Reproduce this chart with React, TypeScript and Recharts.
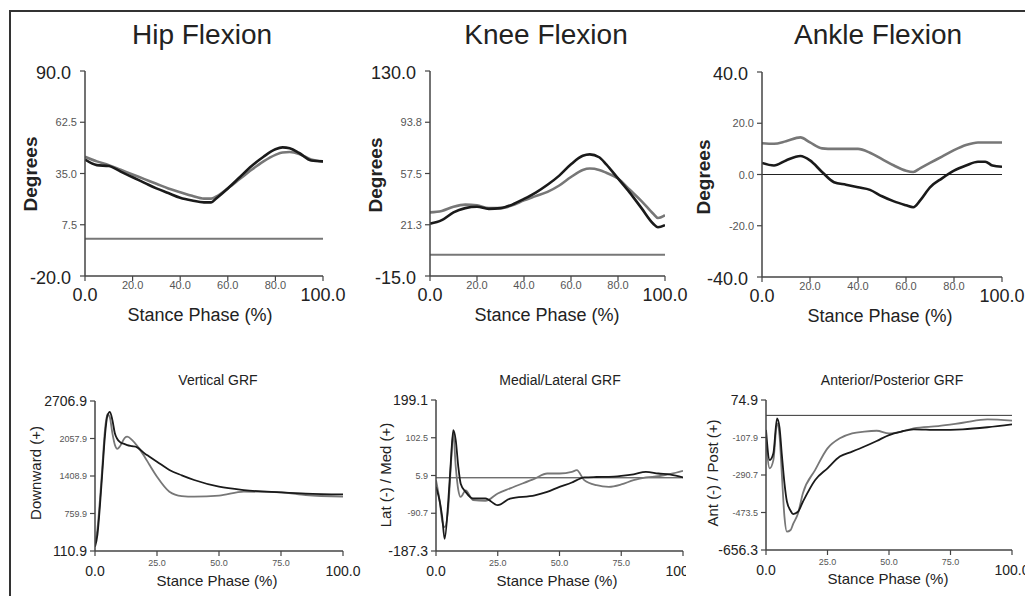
import React from 'react';
import { LineChart, Line, XAxis, YAxis, ReferenceLine } from 'recharts';

const FONT = "'Liberation Sans', Arial, Helvetica, sans-serif";
const DARK = '#1a1a1a';
const GREY = '#777777';
const AXIS = '#444444';

// ---------- Top row: joint angles (degrees) ----------
const hipX = [0, 5, 10, 15, 20, 25, 30, 35, 40, 45, 50, 53, 55, 60, 65, 70, 75, 80, 83, 86, 90, 95, 100];
const hipBlack = [42.5, 39.5, 39, 36, 33, 30, 27, 24.5, 22, 20.5, 19.5, 19.5, 21.5, 27, 33, 39, 44, 48, 49, 48.5, 46, 42, 41.5];
const hipGrey = [44, 41.5, 39.5, 37, 34.5, 32, 29.5, 27, 25, 23, 21.5, 21.5, 22.5, 27, 32, 37, 41.5, 45, 46.3, 46.5, 45.5, 42.5, 41.5];
const hipYTicks = [-20, 7.5, 35, 62.5, 90];
const hipYLabels = ['-20.0', '7.5', '35.0', '62.5', '90.0'];

const kneeX = [0, 5, 10, 15, 20, 25, 30, 35, 40, 45, 50, 55, 60, 65, 68, 72, 75, 80, 85, 90, 95, 97, 100];
const kneeBlack = [22, 24.5, 30, 33, 34, 32.5, 33, 35.5, 39.5, 44, 49.5, 56, 64, 70, 71, 69, 64, 54, 44, 33, 22, 19.5, 21];
const kneeGrey = [30, 31, 34, 35.5, 35, 33, 33, 35, 38.5, 41.5, 44.5, 49, 55, 60, 61, 60, 58, 54, 46, 38, 29, 26, 28];
const kneeYTicks = [-15, 21.25, 57.5, 93.75, 130];
const kneeYLabels = ['-15.0', '21.3', '57.5', '93.8', '130.0'];

const ankleX = [0, 5, 10, 16, 20, 25, 30, 35, 40, 45, 50, 55, 60, 63, 66, 70, 75, 80, 85, 90, 93, 96, 100];
const ankleBlack = [4.5, 3.5, 5.5, 7.2, 5.5, 1, -3, -4, -5, -6, -8.5, -10.5, -12, -12.8, -10, -5, -1.5, 1.5, 3.5, 5, 5, 3.5, 3];
const ankleGrey = [12.2, 12, 13, 14.5, 12.5, 10.2, 10, 10, 10, 8.5, 6, 3.5, 1.5, 1, 2.5, 4.5, 7, 9.5, 11.5, 12.5, 12.5, 12.5, 12.5];
const ankleYTicks = [-40, -20, 0, 20, 40];
const ankleYLabels = ['-40.0', '-20.0', '0.0', '20.0', '40.0'];

const topXTicks = [0, 20, 40, 60, 80, 100];
const topXLabels = ['0.0', '20.0', '40.0', '60.0', '80.0', '100.0'];

// ---------- Bottom row: ground reaction forces ----------
const vgrfX = [0, 1, 2, 3, 4, 5, 6, 7, 8, 9, 10, 12, 13, 15, 17, 20, 22, 25, 30, 35, 40, 50, 60, 75, 85, 100];
const vgrfBlack = [186, 400, 900, 1500, 2100, 2450, 2520, 2380, 2150, 2050, 2000, 1960, 1945, 1925, 1905, 1800, 1743, 1657, 1513, 1420, 1340, 1224, 1166, 1126, 1105, 1091];
const vgrfGrey = [243, 500, 1000, 1600, 2200, 2480, 2420, 2150, 1950, 1880, 1920, 2070, 2090, 2030, 1930, 1743, 1600, 1397, 1138, 1062, 1051, 1068, 1138, 1126, 1080, 1051];
const vgrfYTicks = [110.9, 759.9, 1408.9, 2057.9, 2706.9];
const vgrfYLabels = ['110.9', '759.9', '1408.9', '2057.9', '2706.9'];

const mlX = [0, 1.5, 2.5, 3.5, 5, 6, 7, 8, 9, 10, 12, 15, 20, 25, 30, 40, 45, 50, 55, 57, 60, 65, 70, 75, 80, 85, 90, 95, 100];
const mlBlack = [-23, -60, -100, -156, -57, 40, 122, 96, 30, -15, -36, -53, -53, -70, -53, -45, -36, -23, -12, -6, 1, 2, 2.5, 5, 9, 15, 11, 8, 1];
const mlGrey = [-6, -60, -110, -126, -74, 30, 114, 28, -30, -49, -32, -57, -59, -40, -27, -2, 11, 11, 15, 19.6, -6, -19, -23, -17, -6, 1, 4, 10, 18];
const mlYTicks = [-187.3, -90.7, 5.9, 102.5, 199.1];
const mlYLabels = ['-187.3', '-90.7', '5.9', '102.5', '199.1'];

const apX = [0, 1.5, 3, 4.5, 5.5, 6.5, 7.5, 8.5, 10, 11, 13, 15, 20, 25, 30, 35, 40, 45, 50, 55, 60, 70, 80, 90, 100];
const apBlack = [-71, -218, -185, -14.5, -60, -200, -330, -420, -465, -481, -470, -421, -315, -258, -201, -177, -152, -125, -96, -79, -68, -71, -68, -58, -44];
const apGrey = [-120, -258, -218, -39, -100, -300, -494, -567, -559, -530, -478, -380, -266, -161, -112, -88, -79, -75, -88, -79, -63, -52, -36, -19.6, -26];
const apYTicks = [-656.3, -473.5, -290.7, -107.9, 74.9];
const apYLabels = ['-656.3', '-473.5', '-290.7', '-107.9', '74.9'];

const botXTicks = [0, 25, 50, 75, 100];
const botXLabels = ['0.0', '25.0', '50.0', '75.0', '100.0'];

const zip = (xs: number[], ys: number[]) => xs.map((x, i) => ({ x, y: ys[i] }));

type PanelProps = {
  left: number; top: number; w: number; h: number; mr: number;
  yTicks: number[]; yLabels: string[]; xTicks: number[]; xLabels: string[];
  black: { x: number; y: number }[]; grey: { x: number; y: number }[];
  refColor: string; refWidth: number; lineWidth: number;
  bigY: number; smallY: number; bigX: number; smallX: number;
  bigYdx: number; bigYdy: number; smallXdy: number; bigXdy: number;
  refSpan?: number;
};

const ML = 80;
const MT = 14;
const XH = 40;

function Panel(p: PanelProps) {
  const n = p.yTicks.length;
  const m = p.xTicks.length;
  const YTick = (props: any) => {
    const { x, y, payload } = props;
    const idx = p.yTicks.findIndex((t) => Math.abs(t - payload.value) < 1e-6);
    const big = idx === 0 || idx === n - 1;
    return (
      <text x={x + (big ? p.bigYdx : 0)} y={y + (big ? p.bigYdy : 0)} textAnchor="end" dominantBaseline="central"
        fontFamily={FONT} fontSize={big ? p.bigY : p.smallY} fill={big ? '#222' : '#555'}>
        {p.yLabels[idx]}
      </text>
    );
  };
  const XTick = (props: any) => {
    const { x, y, payload } = props;
    const idx = p.xTicks.findIndex((t) => Math.abs(t - payload.value) < 1e-6);
    const big = idx === 0 || idx === m - 1;
    return (
      <text x={x} y={y + (big ? p.bigXdy : p.smallXdy)} textAnchor="middle" dominantBaseline="central"
        fontFamily={FONT} fontSize={big ? p.bigX : p.smallX} fill={big ? '#222' : '#555'}>
        {p.xLabels[idx]}
      </text>
    );
  };
  const width = ML + p.w + p.mr;
  const height = MT + p.h + XH;
  return (
    <div style={{ position: 'absolute', left: p.left - ML, top: p.top - MT, width, height }}>
      <LineChart width={width} height={height} margin={{ top: MT, right: p.mr, bottom: 0, left: 0 }}>
        <XAxis type="number" dataKey="x" domain={[0, 100]} ticks={p.xTicks} interval={0}
          height={XH} tick={XTick} tickSize={5} tickMargin={3}
          axisLine={{ stroke: AXIS, strokeWidth: 1.5 }} tickLine={{ stroke: AXIS, strokeWidth: 1.2 }} allowDataOverflow />
        <YAxis type="number" domain={[p.yTicks[0], p.yTicks[n - 1]]} ticks={p.yTicks} interval={0}
          width={ML} tick={YTick} tickSize={5} tickMargin={3}
          axisLine={{ stroke: AXIS, strokeWidth: 1.5 }} tickLine={{ stroke: AXIS, strokeWidth: 1.2 }} allowDataOverflow />
        <ReferenceLine y={0} stroke={p.refColor} strokeWidth={p.refWidth} />
        <Line data={p.grey} dataKey="y" type="monotone" stroke={GREY} strokeWidth={p.lineWidth} dot={false} isAnimationActive={false} />
        <Line data={p.black} dataKey="y" type="monotone" stroke={DARK} strokeWidth={p.lineWidth} dot={false} isAnimationActive={false} />
      </LineChart>
    </div>
  );
}

function Label({ x, y, text, size, rotate, weight, color }: { x: number; y: number; text: string; size: number; rotate?: boolean; weight?: string; color?: string }) {
  return (
    <div style={{
      position: 'absolute', left: x, top: y, transform: `translate(-50%, -50%)${rotate ? ' rotate(-90deg)' : ''}`,
      fontFamily: FONT, fontSize: size, lineHeight: 1, whiteSpace: 'nowrap', color: color || '#222', fontWeight: weight || 'normal',
    }}>{text}</div>
  );
}

const topCommon = {
  h: 205, xTicks: topXTicks, xLabels: topXLabels, lineWidth: 2.6,
  bigY: 18, smallY: 11, bigX: 18, smallX: 11, bigYdx: -6, bigYdy: 2, smallXdy: 1, bigXdy: 11,
};
const botCommon = {
  xTicks: botXTicks, xLabels: botXLabels, lineWidth: 1.8, refColor: '#333', refWidth: 1,
  bigY: 14, smallY: 9, bigX: 14, smallX: 9, bigYdx: 0, bigYdy: 0, smallXdy: 4, bigXdy: 12,
};

export default function App() {
  return (
    <div style={{ position: 'absolute', left: 0, top: 0, width: 1025, height: 596, background: '#fff', overflow: 'hidden' }}>
      <div style={{ position: 'absolute', left: 9, top: 10, width: 1030, height: 600, borderLeft: '2px solid #333', borderTop: '2px solid #333' }} />

      <Label x={202} y={35} text="Hip Flexion" size={28} />
      <Label x={546} y={35} text="Knee Flexion" size={28} />
      <Label x={878} y={35} text="Ankle Flexion" size={28} />

      <Panel left={85} top={71} w={238} mr={30} {...topCommon} yTicks={hipYTicks} yLabels={hipYLabels}
        black={zip(hipX, hipBlack)} grey={zip(hipX, hipGrey)} refColor="#777" refWidth={2} />
      <Panel left={430} top={71} w={235} mr={30} {...topCommon} yTicks={kneeYTicks} yLabels={kneeYLabels}
        black={zip(kneeX, kneeBlack)} grey={zip(kneeX, kneeGrey)} refColor="#777" refWidth={2} />
      <Panel left={762} top={72} w={240} mr={25} {...topCommon} yTicks={ankleYTicks} yLabels={ankleYLabels}
        black={zip(ankleX, ankleBlack)} grey={zip(ankleX, ankleGrey)} refColor="#222" refWidth={1} />

      <Label x={30} y={174} text="Degrees" size={19} rotate weight="bold" />
      <Label x={375} y={175} text="Degrees" size={19} rotate weight="bold" />
      <Label x={703} y={177} text="Degrees" size={19} rotate weight="bold" />

      <Label x={200} y={315} text="Stance Phase (%)" size={18} />
      <Label x={547} y={315} text="Stance Phase (%)" size={18} />
      <Label x={880} y={316} text="Stance Phase (%)" size={18} />

      <Label x={218} y={380} text="Vertical GRF" size={14} />
      <Label x={560} y={380} text="Medial/Lateral GRF" size={14} />
      <Label x={892} y={380} text="Anterior/Posterior GRF" size={14} />

      <Panel left={95} top={401} w={248} h={150} mr={25} {...botCommon} yTicks={vgrfYTicks} yLabels={vgrfYLabels}
        black={zip(vgrfX, vgrfBlack)} grey={zip(vgrfX, vgrfGrey)} />
      <Panel left={436} top={400} w={247} h={151} mr={3} {...botCommon} yTicks={mlYTicks} yLabels={mlYLabels}
        black={zip(mlX, mlBlack)} grey={zip(mlX, mlGrey)} />
      <Panel left={766} top={400} w={246} h={150} mr={20} {...botCommon} yTicks={apYTicks} yLabels={apYLabels}
        black={zip(apX, apBlack)} grey={zip(apX, apGrey)} />

      <Label x={35} y={473} text="Downward (+)" size={15} rotate />
      <Label x={385} y={475} text="Lat (-) / Med (+)" size={15} rotate />
      <Label x={712} y={473} text="Ant (-) / Post (+)" size={15} rotate />

      <Label x={217} y={580} text="Stance Phase (%)" size={15} />
      <Label x={557} y={580} text="Stance Phase (%)" size={15} />
      <Label x={888} y={578} text="Stance Phase (%)" size={15} />
    </div>
  );
}
